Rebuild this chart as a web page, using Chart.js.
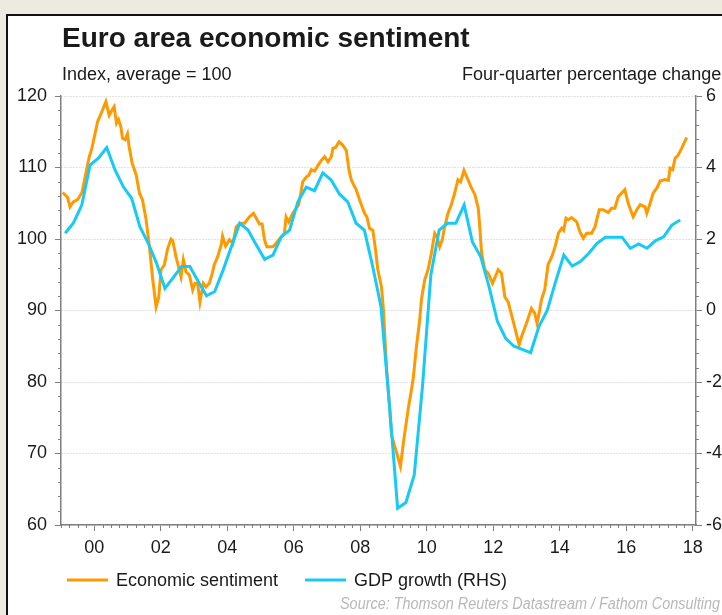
<!DOCTYPE html>
<html>
<head>
<meta charset="utf-8">
<script src="https://cdn.jsdelivr.net/npm/chart.js@4.4.1/dist/chart.umd.min.js"></script>
<style>
    html, body { margin: 0; padding: 0; background: #edeae0; overflow: hidden; }
    canvas { display: block; }
</style>
</head>
<body>
<canvas id="myCanvas" width="722" height="615"></canvas>
<script>
// x axis: decimal years, labels every two years
const yearTicks = [2000, 2002, 2004, 2006, 2008, 2010, 2012, 2014, 2016, 2018];

// Economic sentiment (monthly)
const sentimentTimes = [
    1999.05, 1999.20, 1999.27, 1999.37, 1999.50, 1999.63, 1999.77, 1999.85, 1999.93,
    2000.10, 2000.22, 2000.35, 2000.45, 2000.53, 2000.60, 2000.67, 2000.73, 2000.80, 2000.85, 2000.93,
    2001.00, 2001.05, 2001.14, 2001.26, 2001.36, 2001.45, 2001.56, 2001.66, 2001.76, 2001.86, 2001.94,
    2002.01, 2002.11, 2002.21, 2002.31, 2002.36, 2002.46, 2002.61, 2002.68, 2002.76, 2002.86, 2002.96,
    2003.03, 2003.11, 2003.18, 2003.28, 2003.36, 2003.46, 2003.55, 2003.61, 2003.71, 2003.82, 2003.86, 2003.95,
    2004.07, 2004.17, 2004.27, 2004.39, 2004.52, 2004.67, 2004.79, 2004.97,
    2005.05, 2005.12, 2005.19, 2005.37, 2005.47, 2005.62, 2005.72, 2005.77, 2005.85, 2005.97,
    2006.08, 2006.15, 2006.23, 2006.27, 2006.38, 2006.45, 2006.53, 2006.63, 2006.73, 2006.83, 2006.93,
    2007.03, 2007.13, 2007.18, 2007.26, 2007.36, 2007.46, 2007.58, 2007.66, 2007.73, 2007.80, 2007.88, 2007.98,
    2008.13, 2008.20, 2008.28, 2008.38, 2008.46, 2008.53, 2008.64, 2008.70, 2008.79, 2008.89, 2008.94,
    2009.04, 2009.21, 2009.31, 2009.44, 2009.59, 2009.69, 2009.79, 2009.84, 2009.94,
    2010.04, 2010.14, 2010.24, 2010.31, 2010.39, 2010.47, 2010.54, 2010.64, 2010.74, 2010.84, 2010.94,
    2011.02, 2011.12, 2011.24, 2011.35, 2011.45, 2011.55, 2011.60, 2011.65, 2011.75, 2011.85, 2011.98,
    2012.15, 2012.25, 2012.35, 2012.45, 2012.60, 2012.78, 2012.85,
    2013.00, 2013.15, 2013.25, 2013.32, 2013.40, 2013.45, 2013.55, 2013.65, 2013.76, 2013.86, 2013.96,
    2014.06, 2014.12, 2014.19, 2014.26, 2014.36, 2014.51, 2014.61, 2014.71, 2014.81, 2014.96,
    2015.06, 2015.19, 2015.31, 2015.46, 2015.56, 2015.66, 2015.76, 2015.86, 2015.96,
    2016.06, 2016.21, 2016.32, 2016.42, 2016.57, 2016.62, 2016.72, 2016.81, 2016.92,
    2017.02, 2017.17, 2017.27, 2017.32, 2017.40, 2017.47, 2017.56, 2017.67, 2017.82
];
const sentimentValues = [
    106.5, 105.8, 104.5, 105.2, 105.5, 106.5, 109.7, 111.5, 112.7,
    116.4, 117.7, 119.2, 117.3, 118.0, 118.5, 116.2, 116.7, 115.7, 114.1, 113.9,
    114.7, 112.9, 110.6, 109.0, 106.4, 105.5, 102.7, 98.9, 94.3, 90.5, 91.9,
    95.7, 96.4, 98.7, 100.0, 99.8, 97.5, 94.7, 97.1, 95.4, 95.0, 92.9,
    93.8, 93.8, 91.2, 93.8, 93.3, 93.8, 95.2, 96.4, 97.5, 99.2, 100.4, 99.0,
    99.9, 99.4, 101.7, 102.2, 102.2, 103.1, 103.6, 102.1,
    102.1, 99.9, 98.9, 98.9, 99.4, 100.3, 100.8, 103.1, 102.4, 103.6,
    104.3, 104.8, 106.9, 108.0, 108.7, 108.9, 109.7, 109.5, 110.3, 111.0, 111.5,
    110.8, 111.5, 112.7, 112.8, 113.6, 113.2, 112.4, 109.7, 108.3, 107.6, 106.9, 105.5,
    103.6, 103.1, 101.5, 101.2, 98.5, 95.7, 93.3, 90.0, 82.1, 76.1, 72.6,
    71.0, 68.2, 71.9, 76.1, 80.3, 84.9, 88.7, 91.5, 94.3,
    95.7, 98.0, 100.8, 100.3, 98.9, 99.9, 101.7, 103.6, 104.8, 106.4, 108.3,
    108.0, 109.6, 108.3, 107.1, 106.2, 104.3, 101.5, 98.0, 95.7, 95.2, 93.8,
    95.7, 95.2, 91.9, 91.2, 88.5, 85.2, 86.3,
    88.2, 90.3, 89.6, 88.2, 90.1, 91.5, 92.9, 96.4, 97.5, 98.9, 100.8,
    101.5, 101.2, 102.9, 102.7, 103.0, 102.4, 101.0, 100.1, 100.8, 100.8,
    101.7, 104.1, 104.1, 103.7, 104.3, 104.3, 105.9, 106.4, 106.9,
    105.0, 103.1, 104.1, 104.8, 104.5, 103.6, 105.0, 106.4, 107.1,
    108.1, 108.3, 108.2, 109.9, 109.7, 111.3, 111.7, 112.7, 114.2
];

// GDP growth, four-quarter % change, quarterly from 1999Q1
const gdpStart = 1999.125;
const gdpValues = [
    2.16, 2.45, 2.95, 4.07,
    4.26, 4.56, 3.93, 3.46,
    3.14, 2.34, 1.88, 1.32,
    0.62, 0.92, 1.23, 1.23,
    0.82, 0.41, 0.53, 1.13,
    1.78, 2.44, 2.25, 1.83,
    1.43, 1.55, 2.06, 2.25,
    3.04, 3.45, 3.35, 3.85,
    3.65, 3.26, 3.04, 2.44,
    2.25, 1.23, 0.11, -2.6,
    -5.53, -5.37, -4.6, -2.1,
    1.0, 2.25, 2.44, 2.44,
    2.95, 1.92, 1.5, 0.67,
    -0.3, -0.78, -1.0, -1.09,
    -1.18, -0.45, 0.0, 0.8,
    1.55, 1.24, 1.37, 1.6,
    1.88, 2.05, 2.05, 2.05,
    1.74, 1.86, 1.74, 1.95,
    2.06, 2.39, 2.53
];

const FONT = "'Liberation Sans', Arial, sans-serif";
const AXIS = "#7f7f7f";
const TEXT = "#1a1a1a";

const canvas = document.getElementById("myCanvas");
const ctx = canvas.getContext("2d");

// beige page, white framed panel, titles, legend row and source line
const panel = {
    id: "panel",
    beforeDraw(chart) {
        const c = chart.ctx;
        c.save();
        c.fillStyle = "#edeae0";
        c.fillRect(0, 0, chart.width, chart.height);
        c.fillStyle = "#ffffff";
        c.fillRect(7, 14, chart.width, chart.height);
        c.strokeStyle = "#111";
        c.lineWidth = 2;
        c.beginPath();
        c.moveTo(7, chart.height);
        c.lineTo(7, 15);
        c.lineTo(chart.width, 15);
        c.stroke();
        c.restore();
    },
    afterDraw(chart) {
        const c = chart.ctx;
        c.save();
        c.fillStyle = TEXT;
        c.textBaseline = "alphabetic";
        c.font = "bold 28px " + FONT;
        c.fillText("Euro area economic sentiment", 62, 47);
        c.font = "18px " + FONT;
        c.fillText("Index, average = 100", 62, 80);
        c.fillText("Four-quarter percentage change", 462, 80);

        // legend
        let x = 67;
        const y = 580;
        c.textBaseline = "middle";
        chart.data.datasets.forEach(ds => {
            c.strokeStyle = ds.borderColor;
            c.lineWidth = 3;
            c.beginPath();
            c.moveTo(x, y);
            c.lineTo(x + 41, y);
            c.stroke();
            c.fillStyle = TEXT;
            c.fillText(ds.label, x + 49, y + 1);
            x += 49 + c.measureText(ds.label).width + 27;
        });

        c.fillStyle = "#b8b8b8";
        c.textBaseline = "alphabetic";
        c.font = "italic 16px " + FONT;
        c.textAlign = "right";
        c.fillText("Source: Thomson Reuters Datastream / Fathom Consulting", 720, 609, 380);
        c.restore();
    }
};

// small ticks between the labelled ones
const minorTicks = {
    id: "minorTicks",
    afterDraw(chart) {
        const c = chart.ctx;
        const a = chart.chartArea;
        const {x, y, y1} = chart.scales;
        c.save();
        c.strokeStyle = AXIS;
        c.lineWidth = 1;
        c.beginPath();
        for (let i = 0; i <= 76; i++) {
            if (i % 8 === 4) continue;
            const px = Math.round(x.getPixelForValue(1999 + i / 4)) + 0.5;
            c.moveTo(px, a.bottom);
            c.lineTo(px, a.bottom + 3);
        }
        for (let i = 31; i < 60; i++) {
            if (i % 5 === 0) continue;
            const py = Math.round(y.getPixelForValue(i * 2)) + 0.5;
            c.moveTo(a.left - 3, py);
            c.lineTo(a.left, py);
        }
        for (let i = -14; i < 15; i++) {
            if (i % 5 === 0) continue;
            const py = Math.round(y1.getPixelForValue(i * 0.4)) + 0.5;
            c.moveTo(a.right, py);
            c.lineTo(a.right + 3, py);
        }
        c.stroke();
        c.restore();
    }
};

var chart = new Chart(ctx, {
    type: "line",
    data: {
        datasets: [
            {
                label: "Economic sentiment",
                data: sentimentTimes.map((t, i) => ({x: t, y: sentimentValues[i]})),
                yAxisID: "y",
                borderColor: "#ff9900",
                backgroundColor: "#ff9900",
                borderWidth: 3,
                pointRadius: 0,
                order: 2
            },
            {
                label: "GDP growth (RHS)",
                data: gdpValues.map((v, i) => ({x: gdpStart + i * 0.25, y: v})),
                yAxisID: "y1",
                borderColor: "#17c9f5",
                backgroundColor: "#17c9f5",
                borderWidth: 3,
                pointRadius: 0,
                order: 1
            }
        ]
    },
    options: {
        responsive: false,
        animation: false,
        layout: {
            padding: {top: 96, left: 0, right: 0, bottom: 50}
        },
        scales: {
            x: {
                type: "linear",
                min: 1999,
                max: 2018.1,
                afterBuildTicks: s => { s.ticks = yearTicks.map(v => ({value: v})); },
                afterFit: s => { s.height = 40; },
                ticks: {
                    autoSkip: false,
                    maxRotation: 0,
                    padding: 6,
                    color: TEXT,
                    font: {family: FONT, size: 18},
                    callback: v => String(v % 100).padStart(2, "0")
                },
                grid: {drawOnChartArea: false, tickLength: 6, tickColor: AXIS},
                border: {color: AXIS, width: 1.5}
            },
            y: {
                position: "left",
                min: 60,
                max: 120,
                afterFit: s => { s.width = 61; },
                ticks: {
                    stepSize: 10,
                    padding: 8,
                    color: TEXT,
                    font: {family: FONT, size: 18}
                },
                grid: {color: "#c4c4c4", tickLength: 6, tickColor: AXIS},
                border: {color: AXIS, width: 1.5, dash: [1, 2]}
            },
            y1: {
                position: "right",
                min: -6,
                max: 6,
                afterFit: s => { s.width = 26; },
                ticks: {
                    stepSize: 2,
                    padding: 4,
                    color: TEXT,
                    font: {family: FONT, size: 18}
                },
                grid: {drawOnChartArea: false, tickLength: 6, tickColor: AXIS},
                border: {color: AXIS, width: 1.5}
            }
        },
        plugins: {
            title: {display: false},
            tooltip: {enabled: false},
            legend: {display: false}
        }
    },
    plugins: [panel, minorTicks]
});
</script>
</body>
</html>
